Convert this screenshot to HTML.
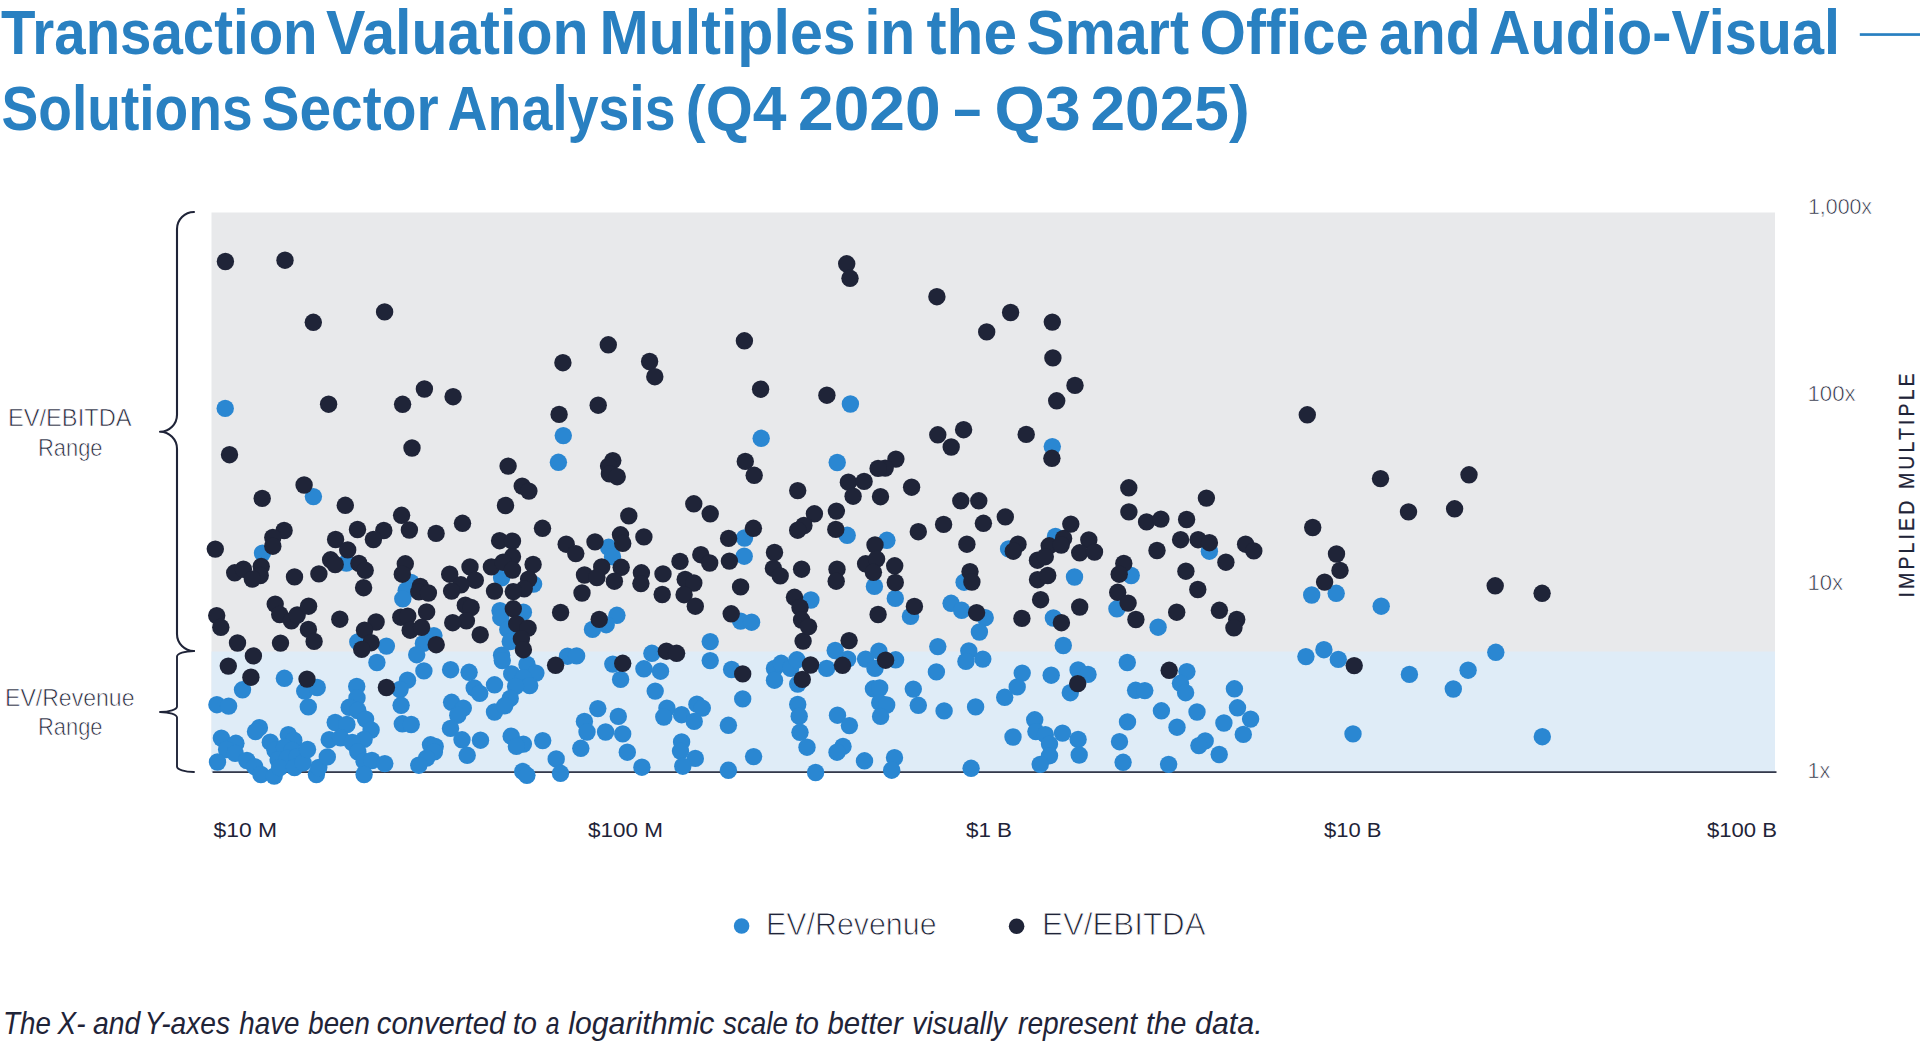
<!DOCTYPE html>
<html lang="en"><head><meta charset="utf-8"><title>Transaction Valuation Multiples</title>
<style>html,body{margin:0;padding:0;background:#fff;overflow:hidden}svg{display:block}text{font-family:"Liberation Sans",sans-serif}</style></head><body>
<svg width="1920" height="1044" viewBox="0 0 1920 1044">
<rect width="1920" height="1044" fill="#ffffff"/>
<rect x="1859.8" y="33.2" width="61" height="2.7" fill="#2980c1"/>
<rect x="211.5" y="212.5" width="1563.5" height="559.5" fill="#e8e9eb"/>
<rect x="211.5" y="651.5" width="1563.5" height="120.5" fill="#dfecf7"/>
<rect x="212.5" y="771.3" width="1564" height="1.6" fill="#1f2438"/>
<path d="M194 212 C184.61 212 177 219.61 177 229 L177 414.8 C177 424.19 169.39 431.8 160 431.8 C169.39 431.8 177 439.41 177 448.8 L177 634 C177 643.39 184.61 651 194 651" fill="none" stroke="#1f2438" stroke-width="2.1" stroke-linecap="round" stroke-linejoin="round"/>
<path d="M194 651 C184.61 651 177 653.51 177 656.6 L177 706.4 C177 709.49 169.39 712 160 712 C169.39 712 177 714.51 177 717.6 L177 766.4 C177 769.49 184.61 772 194 772" fill="none" stroke="#1f2438" stroke-width="1.9" stroke-linecap="round" stroke-linejoin="round"/>
<text y="53.8" font-size="63" font-weight="700" font-style="normal" fill="#2980c1"><tspan x="1.0" textLength="316.54" lengthAdjust="spacingAndGlyphs">Transaction</tspan> <tspan x="326.0" textLength="262.53" lengthAdjust="spacingAndGlyphs">Valuation</tspan> <tspan x="599.5" textLength="256.12" lengthAdjust="spacingAndGlyphs">Multiples</tspan> <tspan x="864.5" textLength="50.79" lengthAdjust="spacingAndGlyphs">in</tspan> <tspan x="926.5" textLength="90.56" lengthAdjust="spacingAndGlyphs">the</tspan> <tspan x="1026.5" textLength="162.51" lengthAdjust="spacingAndGlyphs">Smart</tspan> <tspan x="1199.5" textLength="169.1" lengthAdjust="spacingAndGlyphs">Office</tspan> <tspan x="1379.0" textLength="101.7" lengthAdjust="spacingAndGlyphs">and</tspan> <tspan x="1489.0" textLength="351.07" lengthAdjust="spacingAndGlyphs">Audio-Visual</tspan></text>
<text y="129.6" font-size="63" font-weight="700" font-style="normal" fill="#2980c1"><tspan x="1.5" textLength="251.04" lengthAdjust="spacingAndGlyphs">Solutions</tspan> <tspan x="261.5" textLength="177.04" lengthAdjust="spacingAndGlyphs">Sector</tspan> <tspan x="447.5" textLength="228.08" lengthAdjust="spacingAndGlyphs">Analysis</tspan> <tspan x="685.5" textLength="101.05" lengthAdjust="spacingAndGlyphs">(Q4</tspan> <tspan x="798.0" textLength="142.64" lengthAdjust="spacingAndGlyphs">2020</tspan> <tspan x="953.5" textLength="27.64" lengthAdjust="spacingAndGlyphs">–</tspan> <tspan x="994.5" textLength="86.27" lengthAdjust="spacingAndGlyphs">Q3</tspan> <tspan x="1090.5" textLength="159.11" lengthAdjust="spacingAndGlyphs">2025)</tspan></text>
<text y="1034.3" font-size="31.5" font-weight="400" font-style="italic" fill="#1f2438"><tspan x="3.0" textLength="47.89" lengthAdjust="spacingAndGlyphs">The</tspan> <tspan x="57.5" textLength="28.0" lengthAdjust="spacingAndGlyphs">X-</tspan> <tspan x="93.0" textLength="47.29" lengthAdjust="spacingAndGlyphs">and</tspan> <tspan x="144.5" textLength="85.6" lengthAdjust="spacingAndGlyphs">Y-axes</tspan> <tspan x="239.25" textLength="60.26" lengthAdjust="spacingAndGlyphs">have</tspan> <tspan x="308.25" textLength="61.52" lengthAdjust="spacingAndGlyphs">been</tspan> <tspan x="376.75" textLength="128.51" lengthAdjust="spacingAndGlyphs">converted</tspan> <tspan x="512.75" textLength="24.28" lengthAdjust="spacingAndGlyphs">to</tspan> <tspan x="545.75" textLength="13.78" lengthAdjust="spacingAndGlyphs">a</tspan> <tspan x="568.25" textLength="146.25" lengthAdjust="spacingAndGlyphs">logarithmic</tspan> <tspan x="723.0" textLength="65.0" lengthAdjust="spacingAndGlyphs">scale</tspan> <tspan x="794.75" textLength="24.28" lengthAdjust="spacingAndGlyphs">to</tspan> <tspan x="827.5" textLength="75.26" lengthAdjust="spacingAndGlyphs">better</tspan> <tspan x="912.0" textLength="94.76" lengthAdjust="spacingAndGlyphs">visually</tspan> <tspan x="1018.0" textLength="119.01" lengthAdjust="spacingAndGlyphs">represent</tspan> <tspan x="1146.0" textLength="40.29" lengthAdjust="spacingAndGlyphs">the</tspan> <tspan x="1195.0" textLength="67.68" lengthAdjust="spacingAndGlyphs">data.</tspan></text>
<text x="8.0" y="426.2" font-size="23.7" font-weight="400" font-style="normal" fill="#1f2438" textLength="123.51" lengthAdjust="spacingAndGlyphs" stroke="#ffffff" stroke-width="0.66">EV/EBITDA</text>
<text x="38.0" y="456.4" font-size="23.7" font-weight="400" font-style="normal" fill="#1f2438" textLength="64.56" lengthAdjust="spacingAndGlyphs" stroke="#ffffff" stroke-width="0.66">Range</text>
<text x="5.0" y="706.4" font-size="23.7" font-weight="400" font-style="normal" fill="#1f2438" textLength="129.52" lengthAdjust="spacingAndGlyphs" stroke="#ffffff" stroke-width="0.66">EV/Revenue</text>
<text x="38.0" y="735.4" font-size="23.7" font-weight="400" font-style="normal" fill="#1f2438" textLength="64.56" lengthAdjust="spacingAndGlyphs" stroke="#ffffff" stroke-width="0.66">Range</text>
<text x="1808.0" y="213.5" font-size="22.7" font-weight="400" font-style="normal" fill="#1f2438" textLength="64.04" lengthAdjust="spacingAndGlyphs" stroke="#ffffff" stroke-width="0.64">1,000x</text>
<text x="1807.5" y="400.6" font-size="22.7" font-weight="400" font-style="normal" fill="#1f2438" textLength="48.1" lengthAdjust="spacingAndGlyphs" stroke="#ffffff" stroke-width="0.64">100x</text>
<text x="1807.5" y="590" font-size="22.7" font-weight="400" font-style="normal" fill="#1f2438" textLength="35.6" lengthAdjust="spacingAndGlyphs" stroke="#ffffff" stroke-width="0.64">10x</text>
<text x="1807.5" y="778" font-size="22.7" font-weight="400" font-style="normal" fill="#1f2438" textLength="22.69" lengthAdjust="spacingAndGlyphs" stroke="#ffffff" stroke-width="0.64">1x</text>
<text y="837.4" font-size="19.3" font-weight="400" font-style="normal" fill="#1f2438"><tspan x="213.5" textLength="63.55" lengthAdjust="spacingAndGlyphs">$10 M</tspan> <tspan x="588.0" textLength="75.02" lengthAdjust="spacingAndGlyphs">$100 M</tspan> <tspan x="966.0" textLength="46.06" lengthAdjust="spacingAndGlyphs">$1 B</tspan> <tspan x="1324.0" textLength="57.52" lengthAdjust="spacingAndGlyphs">$10 B</tspan> <tspan x="1707.0" textLength="70.01" lengthAdjust="spacingAndGlyphs">$100 B</tspan></text>
<text y="935.3" font-size="31.8" font-weight="400" font-style="normal" fill="#1f2438" stroke="#ffffff" stroke-width="0.89"><tspan x="766.0" textLength="170.54" lengthAdjust="spacingAndGlyphs">EV/Revenue</tspan> <tspan x="1042.0" textLength="163.52" lengthAdjust="spacingAndGlyphs">EV/EBITDA</tspan></text>
<g transform="translate(1914.3,597.4) rotate(-90) scale(0.86,1)"><text x="0" y="0" font-size="22.7" font-weight="400" fill="#1f2438" textLength="260.5" lengthAdjust="spacing" stroke="#1f2438" stroke-width="0.25">IMPLIED MULTIPLE</text></g>
<circle cx="741.6" cy="926" r="7.8" fill="#2a87d2"/>
<circle cx="1016.6" cy="926.2" r="7.8" fill="#1f2438"/>
<g fill="#2a87d2">
<circle cx="225.2" cy="408.4" r="8.7"/>
<circle cx="850.4" cy="404.0" r="8.7"/>
<circle cx="313.4" cy="496.6" r="8.7"/>
<circle cx="563.3" cy="435.6" r="8.7"/>
<circle cx="558.4" cy="462.3" r="8.7"/>
<circle cx="761.2" cy="438.3" r="8.7"/>
<circle cx="744.5" cy="538.0" r="8.7"/>
<circle cx="608.6" cy="547.3" r="8.7"/>
<circle cx="1052.3" cy="446.6" r="8.7"/>
<circle cx="837.2" cy="462.5" r="8.7"/>
<circle cx="847.2" cy="535.3" r="8.7"/>
<circle cx="886.9" cy="540.3" r="8.7"/>
<circle cx="1055.5" cy="536.4" r="8.7"/>
<circle cx="1008.6" cy="548.9" r="8.7"/>
<circle cx="1311.7" cy="595.0" r="8.7"/>
<circle cx="1336.2" cy="593.3" r="8.7"/>
<circle cx="1381.2" cy="606.2" r="8.7"/>
<circle cx="262.5" cy="553.1" r="8.7"/>
<circle cx="346.4" cy="563.0" r="8.7"/>
<circle cx="410.9" cy="582.5" r="8.7"/>
<circle cx="406.2" cy="590.3" r="8.7"/>
<circle cx="402.8" cy="598.9" r="8.7"/>
<circle cx="501.6" cy="577.8" r="8.7"/>
<circle cx="357.8" cy="641.9" r="8.7"/>
<circle cx="386.4" cy="646.1" r="8.7"/>
<circle cx="433.9" cy="635.6" r="8.7"/>
<circle cx="423.4" cy="643.4" r="8.7"/>
<circle cx="416.7" cy="654.7" r="8.7"/>
<circle cx="500.0" cy="610.6" r="8.7"/>
<circle cx="500.8" cy="617.7" r="8.7"/>
<circle cx="242.5" cy="689.8" r="8.7"/>
<circle cx="284.4" cy="678.3" r="8.7"/>
<circle cx="304.7" cy="691.1" r="8.7"/>
<circle cx="317.2" cy="687.5" r="8.7"/>
<circle cx="376.9" cy="662.5" r="8.7"/>
<circle cx="356.7" cy="686.4" r="8.7"/>
<circle cx="407.5" cy="680.2" r="8.7"/>
<circle cx="400.0" cy="689.5" r="8.7"/>
<circle cx="423.9" cy="670.9" r="8.7"/>
<circle cx="450.6" cy="669.7" r="8.7"/>
<circle cx="469.1" cy="672.3" r="8.7"/>
<circle cx="474.2" cy="688.0" r="8.7"/>
<circle cx="479.7" cy="693.4" r="8.7"/>
<circle cx="494.5" cy="684.8" r="8.7"/>
<circle cx="501.6" cy="655.2" r="8.7"/>
<circle cx="502.3" cy="660.6" r="8.7"/>
<circle cx="533.6" cy="584.1" r="8.7"/>
<circle cx="612.5" cy="556.7" r="8.7"/>
<circle cx="744.2" cy="556.2" r="8.7"/>
<circle cx="523.4" cy="612.2" r="8.7"/>
<circle cx="507.8" cy="629.4" r="8.7"/>
<circle cx="510.2" cy="641.6" r="8.7"/>
<circle cx="616.9" cy="615.3" r="8.7"/>
<circle cx="606.2" cy="624.7" r="8.7"/>
<circle cx="592.5" cy="629.4" r="8.7"/>
<circle cx="740.6" cy="621.1" r="8.7"/>
<circle cx="751.6" cy="622.2" r="8.7"/>
<circle cx="710.2" cy="641.6" r="8.7"/>
<circle cx="710.2" cy="660.6" r="8.7"/>
<circle cx="651.9" cy="653.3" r="8.7"/>
<circle cx="567.5" cy="656.2" r="8.7"/>
<circle cx="576.6" cy="655.9" r="8.7"/>
<circle cx="612.8" cy="664.1" r="8.7"/>
<circle cx="620.6" cy="679.4" r="8.7"/>
<circle cx="643.9" cy="668.8" r="8.7"/>
<circle cx="660.5" cy="671.2" r="8.7"/>
<circle cx="655.2" cy="691.1" r="8.7"/>
<circle cx="731.6" cy="669.5" r="8.7"/>
<circle cx="742.7" cy="698.9" r="8.7"/>
<circle cx="774.5" cy="668.4" r="8.7"/>
<circle cx="781.2" cy="663.3" r="8.7"/>
<circle cx="790.6" cy="668.4" r="8.7"/>
<circle cx="796.9" cy="659.8" r="8.7"/>
<circle cx="774.5" cy="680.2" r="8.7"/>
<circle cx="797.7" cy="684.1" r="8.7"/>
<circle cx="527.0" cy="664.5" r="8.7"/>
<circle cx="511.7" cy="673.9" r="8.7"/>
<circle cx="535.9" cy="673.1" r="8.7"/>
<circle cx="523.4" cy="677.8" r="8.7"/>
<circle cx="529.7" cy="685.6" r="8.7"/>
<circle cx="515.6" cy="686.4" r="8.7"/>
<circle cx="510.2" cy="698.4" r="8.7"/>
<circle cx="874.4" cy="586.4" r="8.7"/>
<circle cx="895.3" cy="598.4" r="8.7"/>
<circle cx="964.1" cy="582.2" r="8.7"/>
<circle cx="1074.5" cy="577.0" r="8.7"/>
<circle cx="810.9" cy="600.0" r="8.7"/>
<circle cx="910.5" cy="616.4" r="8.7"/>
<circle cx="951.1" cy="603.3" r="8.7"/>
<circle cx="961.7" cy="610.3" r="8.7"/>
<circle cx="985.2" cy="617.7" r="8.7"/>
<circle cx="979.4" cy="632.0" r="8.7"/>
<circle cx="1053.4" cy="618.0" r="8.7"/>
<circle cx="1063.3" cy="645.5" r="8.7"/>
<circle cx="937.8" cy="646.6" r="8.7"/>
<circle cx="968.8" cy="650.9" r="8.7"/>
<circle cx="965.9" cy="661.4" r="8.7"/>
<circle cx="982.8" cy="659.1" r="8.7"/>
<circle cx="936.4" cy="671.9" r="8.7"/>
<circle cx="835.2" cy="650.5" r="8.7"/>
<circle cx="847.7" cy="659.1" r="8.7"/>
<circle cx="826.6" cy="668.4" r="8.7"/>
<circle cx="865.6" cy="659.1" r="8.7"/>
<circle cx="878.9" cy="651.2" r="8.7"/>
<circle cx="895.6" cy="659.8" r="8.7"/>
<circle cx="875.0" cy="668.4" r="8.7"/>
<circle cx="873.4" cy="688.8" r="8.7"/>
<circle cx="879.7" cy="688.0" r="8.7"/>
<circle cx="913.3" cy="689.1" r="8.7"/>
<circle cx="1022.2" cy="673.1" r="8.7"/>
<circle cx="1017.2" cy="686.9" r="8.7"/>
<circle cx="1004.7" cy="697.3" r="8.7"/>
<circle cx="1051.2" cy="675.2" r="8.7"/>
<circle cx="1078.1" cy="670.0" r="8.7"/>
<circle cx="1088.0" cy="674.4" r="8.7"/>
<circle cx="1070.3" cy="692.7" r="8.7"/>
<circle cx="1209.4" cy="551.2" r="8.7"/>
<circle cx="1131.2" cy="575.5" r="8.7"/>
<circle cx="1116.9" cy="608.8" r="8.7"/>
<circle cx="1158.1" cy="627.2" r="8.7"/>
<circle cx="1127.3" cy="662.5" r="8.7"/>
<circle cx="1186.9" cy="671.6" r="8.7"/>
<circle cx="1180.5" cy="683.3" r="8.7"/>
<circle cx="1185.6" cy="692.7" r="8.7"/>
<circle cx="1135.6" cy="690.3" r="8.7"/>
<circle cx="1144.8" cy="690.6" r="8.7"/>
<circle cx="1234.4" cy="688.8" r="8.7"/>
<circle cx="1305.9" cy="656.6" r="8.7"/>
<circle cx="1323.9" cy="649.7" r="8.7"/>
<circle cx="1338.3" cy="659.4" r="8.7"/>
<circle cx="1495.8" cy="652.3" r="8.7"/>
<circle cx="1409.4" cy="674.4" r="8.7"/>
<circle cx="1468.1" cy="670.2" r="8.7"/>
<circle cx="1453.3" cy="689.0" r="8.7"/>
<circle cx="1542.3" cy="736.7" r="8.7"/>
<circle cx="216.9" cy="704.7" r="8.7"/>
<circle cx="228.6" cy="706.1" r="8.7"/>
<circle cx="308.3" cy="706.9" r="8.7"/>
<circle cx="357.0" cy="698.0" r="8.7"/>
<circle cx="349.2" cy="707.3" r="8.7"/>
<circle cx="357.8" cy="710.5" r="8.7"/>
<circle cx="365.6" cy="719.1" r="8.7"/>
<circle cx="371.1" cy="730.0" r="8.7"/>
<circle cx="364.1" cy="739.4" r="8.7"/>
<circle cx="335.2" cy="722.5" r="8.7"/>
<circle cx="346.9" cy="724.5" r="8.7"/>
<circle cx="329.2" cy="739.7" r="8.7"/>
<circle cx="340.6" cy="737.8" r="8.7"/>
<circle cx="352.3" cy="742.5" r="8.7"/>
<circle cx="357.8" cy="751.9" r="8.7"/>
<circle cx="364.1" cy="761.2" r="8.7"/>
<circle cx="371.9" cy="760.5" r="8.7"/>
<circle cx="384.8" cy="763.6" r="8.7"/>
<circle cx="364.1" cy="774.5" r="8.7"/>
<circle cx="401.1" cy="705.3" r="8.7"/>
<circle cx="402.3" cy="723.8" r="8.7"/>
<circle cx="411.2" cy="724.5" r="8.7"/>
<circle cx="451.6" cy="702.3" r="8.7"/>
<circle cx="463.3" cy="708.1" r="8.7"/>
<circle cx="457.8" cy="715.2" r="8.7"/>
<circle cx="450.5" cy="728.4" r="8.7"/>
<circle cx="462.0" cy="739.8" r="8.7"/>
<circle cx="480.5" cy="740.2" r="8.7"/>
<circle cx="467.2" cy="755.3" r="8.7"/>
<circle cx="430.5" cy="744.8" r="8.7"/>
<circle cx="435.2" cy="746.4" r="8.7"/>
<circle cx="434.4" cy="751.9" r="8.7"/>
<circle cx="426.6" cy="758.1" r="8.7"/>
<circle cx="418.8" cy="765.2" r="8.7"/>
<circle cx="494.5" cy="712.0" r="8.7"/>
<circle cx="221.4" cy="738.1" r="8.7"/>
<circle cx="235.9" cy="743.3" r="8.7"/>
<circle cx="226.6" cy="749.5" r="8.7"/>
<circle cx="235.2" cy="753.4" r="8.7"/>
<circle cx="217.5" cy="762.0" r="8.7"/>
<circle cx="246.9" cy="760.5" r="8.7"/>
<circle cx="254.7" cy="766.7" r="8.7"/>
<circle cx="260.9" cy="774.5" r="8.7"/>
<circle cx="274.2" cy="776.1" r="8.7"/>
<circle cx="259.4" cy="727.7" r="8.7"/>
<circle cx="255.5" cy="731.6" r="8.7"/>
<circle cx="270.3" cy="742.2" r="8.7"/>
<circle cx="288.3" cy="734.7" r="8.7"/>
<circle cx="293.8" cy="740.2" r="8.7"/>
<circle cx="275.0" cy="750.3" r="8.7"/>
<circle cx="284.4" cy="747.2" r="8.7"/>
<circle cx="292.2" cy="750.3" r="8.7"/>
<circle cx="278.1" cy="759.7" r="8.7"/>
<circle cx="287.5" cy="758.1" r="8.7"/>
<circle cx="296.9" cy="756.6" r="8.7"/>
<circle cx="279.7" cy="767.5" r="8.7"/>
<circle cx="294.5" cy="767.5" r="8.7"/>
<circle cx="303.1" cy="762.8" r="8.7"/>
<circle cx="307.5" cy="749.5" r="8.7"/>
<circle cx="316.4" cy="774.5" r="8.7"/>
<circle cx="318.8" cy="767.5" r="8.7"/>
<circle cx="327.3" cy="756.9" r="8.7"/>
<circle cx="504.7" cy="705.8" r="8.7"/>
<circle cx="597.8" cy="708.6" r="8.7"/>
<circle cx="584.4" cy="721.4" r="8.7"/>
<circle cx="587.0" cy="732.0" r="8.7"/>
<circle cx="618.3" cy="716.4" r="8.7"/>
<circle cx="605.6" cy="732.0" r="8.7"/>
<circle cx="622.7" cy="733.9" r="8.7"/>
<circle cx="580.8" cy="748.3" r="8.7"/>
<circle cx="627.3" cy="752.2" r="8.7"/>
<circle cx="641.9" cy="767.2" r="8.7"/>
<circle cx="511.2" cy="736.2" r="8.7"/>
<circle cx="523.4" cy="744.1" r="8.7"/>
<circle cx="516.4" cy="746.4" r="8.7"/>
<circle cx="542.7" cy="740.6" r="8.7"/>
<circle cx="556.2" cy="758.9" r="8.7"/>
<circle cx="560.5" cy="773.3" r="8.7"/>
<circle cx="522.7" cy="771.4" r="8.7"/>
<circle cx="526.9" cy="775.3" r="8.7"/>
<circle cx="666.9" cy="708.1" r="8.7"/>
<circle cx="663.8" cy="717.0" r="8.7"/>
<circle cx="681.6" cy="714.7" r="8.7"/>
<circle cx="696.9" cy="704.2" r="8.7"/>
<circle cx="702.3" cy="708.1" r="8.7"/>
<circle cx="694.2" cy="721.4" r="8.7"/>
<circle cx="728.4" cy="725.3" r="8.7"/>
<circle cx="681.6" cy="742.0" r="8.7"/>
<circle cx="680.5" cy="751.1" r="8.7"/>
<circle cx="695.3" cy="758.4" r="8.7"/>
<circle cx="682.8" cy="766.2" r="8.7"/>
<circle cx="728.4" cy="770.3" r="8.7"/>
<circle cx="753.6" cy="756.6" r="8.7"/>
<circle cx="797.7" cy="704.5" r="8.7"/>
<circle cx="799.2" cy="716.2" r="8.7"/>
<circle cx="800.0" cy="732.3" r="8.7"/>
<circle cx="807.0" cy="747.2" r="8.7"/>
<circle cx="815.6" cy="772.5" r="8.7"/>
<circle cx="837.5" cy="715.2" r="8.7"/>
<circle cx="849.4" cy="725.6" r="8.7"/>
<circle cx="843.0" cy="746.4" r="8.7"/>
<circle cx="837.0" cy="752.2" r="8.7"/>
<circle cx="864.5" cy="760.8" r="8.7"/>
<circle cx="894.5" cy="757.7" r="8.7"/>
<circle cx="891.7" cy="770.2" r="8.7"/>
<circle cx="879.7" cy="702.7" r="8.7"/>
<circle cx="886.7" cy="705.0" r="8.7"/>
<circle cx="880.6" cy="716.4" r="8.7"/>
<circle cx="918.3" cy="705.3" r="8.7"/>
<circle cx="944.1" cy="710.9" r="8.7"/>
<circle cx="975.6" cy="706.9" r="8.7"/>
<circle cx="1013.0" cy="737.0" r="8.7"/>
<circle cx="1034.7" cy="719.8" r="8.7"/>
<circle cx="1035.9" cy="731.6" r="8.7"/>
<circle cx="1045.3" cy="734.7" r="8.7"/>
<circle cx="1049.5" cy="744.1" r="8.7"/>
<circle cx="1049.5" cy="755.8" r="8.7"/>
<circle cx="1040.2" cy="764.4" r="8.7"/>
<circle cx="1062.5" cy="733.1" r="8.7"/>
<circle cx="1078.1" cy="739.4" r="8.7"/>
<circle cx="1079.2" cy="755.0" r="8.7"/>
<circle cx="971.1" cy="768.3" r="8.7"/>
<circle cx="1161.4" cy="710.8" r="8.7"/>
<circle cx="1127.5" cy="721.9" r="8.7"/>
<circle cx="1177.0" cy="727.2" r="8.7"/>
<circle cx="1197.0" cy="712.0" r="8.7"/>
<circle cx="1237.5" cy="707.8" r="8.7"/>
<circle cx="1250.6" cy="719.1" r="8.7"/>
<circle cx="1223.9" cy="723.0" r="8.7"/>
<circle cx="1243.3" cy="734.4" r="8.7"/>
<circle cx="1119.5" cy="741.7" r="8.7"/>
<circle cx="1205.2" cy="740.9" r="8.7"/>
<circle cx="1198.9" cy="745.6" r="8.7"/>
<circle cx="1219.2" cy="754.5" r="8.7"/>
<circle cx="1123.1" cy="762.3" r="8.7"/>
<circle cx="1168.6" cy="764.4" r="8.7"/>
<circle cx="1353.0" cy="733.9" r="8.7"/>
</g>
<g fill="#1f2438">
<circle cx="225.4" cy="261.5" r="8.7"/>
<circle cx="285.0" cy="260.2" r="8.7"/>
<circle cx="313.3" cy="322.3" r="8.7"/>
<circle cx="384.6" cy="311.9" r="8.7"/>
<circle cx="562.9" cy="362.7" r="8.7"/>
<circle cx="424.4" cy="389.0" r="8.7"/>
<circle cx="453.1" cy="396.7" r="8.7"/>
<circle cx="328.6" cy="404.2" r="8.7"/>
<circle cx="402.6" cy="404.3" r="8.7"/>
<circle cx="598.2" cy="405.2" r="8.7"/>
<circle cx="846.7" cy="263.8" r="8.7"/>
<circle cx="850.0" cy="278.3" r="8.7"/>
<circle cx="936.9" cy="296.7" r="8.7"/>
<circle cx="986.7" cy="331.9" r="8.7"/>
<circle cx="608.3" cy="344.8" r="8.7"/>
<circle cx="744.4" cy="340.8" r="8.7"/>
<circle cx="649.6" cy="361.5" r="8.7"/>
<circle cx="654.8" cy="376.7" r="8.7"/>
<circle cx="760.6" cy="389.2" r="8.7"/>
<circle cx="826.9" cy="395.2" r="8.7"/>
<circle cx="1010.6" cy="312.5" r="8.7"/>
<circle cx="1052.3" cy="322.1" r="8.7"/>
<circle cx="1052.9" cy="357.9" r="8.7"/>
<circle cx="1075.0" cy="385.4" r="8.7"/>
<circle cx="1056.7" cy="400.8" r="8.7"/>
<circle cx="229.5" cy="454.7" r="8.7"/>
<circle cx="412.0" cy="448.0" r="8.7"/>
<circle cx="304.1" cy="485.0" r="8.7"/>
<circle cx="262.2" cy="498.4" r="8.7"/>
<circle cx="345.3" cy="505.3" r="8.7"/>
<circle cx="401.6" cy="515.3" r="8.7"/>
<circle cx="462.5" cy="523.3" r="8.7"/>
<circle cx="284.1" cy="530.5" r="8.7"/>
<circle cx="357.5" cy="529.5" r="8.7"/>
<circle cx="383.8" cy="530.5" r="8.7"/>
<circle cx="409.4" cy="530.0" r="8.7"/>
<circle cx="436.1" cy="533.4" r="8.7"/>
<circle cx="272.8" cy="537.5" r="8.7"/>
<circle cx="335.6" cy="539.5" r="8.7"/>
<circle cx="373.4" cy="539.5" r="8.7"/>
<circle cx="215.3" cy="549.1" r="8.7"/>
<circle cx="272.8" cy="546.2" r="8.7"/>
<circle cx="347.7" cy="549.9" r="8.7"/>
<circle cx="499.6" cy="540.7" r="8.7"/>
<circle cx="559.1" cy="414.4" r="8.7"/>
<circle cx="508.1" cy="466.1" r="8.7"/>
<circle cx="612.8" cy="460.6" r="8.7"/>
<circle cx="608.6" cy="466.1" r="8.7"/>
<circle cx="609.4" cy="473.9" r="8.7"/>
<circle cx="617.2" cy="476.7" r="8.7"/>
<circle cx="745.3" cy="461.4" r="8.7"/>
<circle cx="754.2" cy="475.3" r="8.7"/>
<circle cx="797.7" cy="490.6" r="8.7"/>
<circle cx="522.2" cy="486.1" r="8.7"/>
<circle cx="528.9" cy="491.1" r="8.7"/>
<circle cx="505.5" cy="505.5" r="8.7"/>
<circle cx="693.8" cy="503.8" r="8.7"/>
<circle cx="710.2" cy="513.8" r="8.7"/>
<circle cx="628.8" cy="515.9" r="8.7"/>
<circle cx="542.5" cy="528.3" r="8.7"/>
<circle cx="753.4" cy="528.3" r="8.7"/>
<circle cx="728.6" cy="538.4" r="8.7"/>
<circle cx="643.9" cy="536.9" r="8.7"/>
<circle cx="620.5" cy="534.8" r="8.7"/>
<circle cx="622.7" cy="543.4" r="8.7"/>
<circle cx="595.0" cy="541.9" r="8.7"/>
<circle cx="566.2" cy="544.2" r="8.7"/>
<circle cx="512.5" cy="541.1" r="8.7"/>
<circle cx="937.8" cy="434.8" r="8.7"/>
<circle cx="963.6" cy="429.7" r="8.7"/>
<circle cx="951.2" cy="447.0" r="8.7"/>
<circle cx="1026.2" cy="434.4" r="8.7"/>
<circle cx="1051.9" cy="458.3" r="8.7"/>
<circle cx="895.9" cy="459.1" r="8.7"/>
<circle cx="885.2" cy="468.1" r="8.7"/>
<circle cx="878.1" cy="468.4" r="8.7"/>
<circle cx="848.4" cy="482.2" r="8.7"/>
<circle cx="864.1" cy="481.4" r="8.7"/>
<circle cx="853.1" cy="496.2" r="8.7"/>
<circle cx="880.5" cy="496.7" r="8.7"/>
<circle cx="911.6" cy="487.2" r="8.7"/>
<circle cx="960.8" cy="500.8" r="8.7"/>
<circle cx="978.8" cy="500.8" r="8.7"/>
<circle cx="1005.3" cy="516.9" r="8.7"/>
<circle cx="983.4" cy="523.3" r="8.7"/>
<circle cx="943.6" cy="524.4" r="8.7"/>
<circle cx="918.3" cy="531.7" r="8.7"/>
<circle cx="836.4" cy="511.1" r="8.7"/>
<circle cx="814.4" cy="513.8" r="8.7"/>
<circle cx="803.9" cy="525.5" r="8.7"/>
<circle cx="797.7" cy="530.2" r="8.7"/>
<circle cx="835.8" cy="529.4" r="8.7"/>
<circle cx="875.0" cy="545.0" r="8.7"/>
<circle cx="966.9" cy="544.2" r="8.7"/>
<circle cx="1070.8" cy="524.1" r="8.7"/>
<circle cx="1063.6" cy="538.4" r="8.7"/>
<circle cx="1088.8" cy="540.0" r="8.7"/>
<circle cx="1049.2" cy="545.8" r="8.7"/>
<circle cx="1018.0" cy="544.2" r="8.7"/>
<circle cx="1307.3" cy="414.8" r="8.7"/>
<circle cx="1380.5" cy="478.6" r="8.7"/>
<circle cx="1128.8" cy="487.8" r="8.7"/>
<circle cx="1206.4" cy="498.1" r="8.7"/>
<circle cx="1128.9" cy="511.9" r="8.7"/>
<circle cx="1146.6" cy="521.9" r="8.7"/>
<circle cx="1160.9" cy="519.1" r="8.7"/>
<circle cx="1186.6" cy="519.5" r="8.7"/>
<circle cx="1312.7" cy="527.5" r="8.7"/>
<circle cx="1180.6" cy="539.7" r="8.7"/>
<circle cx="1198.1" cy="539.7" r="8.7"/>
<circle cx="1209.4" cy="542.7" r="8.7"/>
<circle cx="1245.6" cy="544.2" r="8.7"/>
<circle cx="1253.8" cy="550.9" r="8.7"/>
<circle cx="1157.0" cy="550.5" r="8.7"/>
<circle cx="1469.0" cy="474.8" r="8.7"/>
<circle cx="1408.5" cy="511.9" r="8.7"/>
<circle cx="1454.6" cy="508.8" r="8.7"/>
<circle cx="1336.5" cy="554.0" r="8.7"/>
<circle cx="1340.0" cy="570.4" r="8.7"/>
<circle cx="1324.6" cy="582.1" r="8.7"/>
<circle cx="1495.2" cy="585.8" r="8.7"/>
<circle cx="1542.1" cy="593.3" r="8.7"/>
<circle cx="234.7" cy="572.8" r="8.7"/>
<circle cx="243.4" cy="569.2" r="8.7"/>
<circle cx="261.2" cy="566.4" r="8.7"/>
<circle cx="260.2" cy="575.5" r="8.7"/>
<circle cx="252.3" cy="579.1" r="8.7"/>
<circle cx="294.5" cy="576.9" r="8.7"/>
<circle cx="318.9" cy="573.9" r="8.7"/>
<circle cx="330.6" cy="559.8" r="8.7"/>
<circle cx="335.2" cy="564.5" r="8.7"/>
<circle cx="358.9" cy="563.4" r="8.7"/>
<circle cx="365.2" cy="570.3" r="8.7"/>
<circle cx="363.6" cy="587.7" r="8.7"/>
<circle cx="405.3" cy="563.8" r="8.7"/>
<circle cx="402.3" cy="574.2" r="8.7"/>
<circle cx="420.3" cy="586.4" r="8.7"/>
<circle cx="418.8" cy="591.9" r="8.7"/>
<circle cx="428.4" cy="593.0" r="8.7"/>
<circle cx="449.7" cy="574.2" r="8.7"/>
<circle cx="470.0" cy="566.9" r="8.7"/>
<circle cx="475.3" cy="580.2" r="8.7"/>
<circle cx="460.9" cy="584.8" r="8.7"/>
<circle cx="451.6" cy="591.1" r="8.7"/>
<circle cx="491.4" cy="566.9" r="8.7"/>
<circle cx="494.5" cy="591.1" r="8.7"/>
<circle cx="216.7" cy="615.6" r="8.7"/>
<circle cx="220.8" cy="627.3" r="8.7"/>
<circle cx="275.2" cy="604.1" r="8.7"/>
<circle cx="279.7" cy="614.5" r="8.7"/>
<circle cx="291.4" cy="620.8" r="8.7"/>
<circle cx="297.2" cy="615.0" r="8.7"/>
<circle cx="308.6" cy="606.2" r="8.7"/>
<circle cx="308.4" cy="629.4" r="8.7"/>
<circle cx="314.1" cy="641.4" r="8.7"/>
<circle cx="339.8" cy="619.2" r="8.7"/>
<circle cx="376.1" cy="622.0" r="8.7"/>
<circle cx="364.5" cy="630.2" r="8.7"/>
<circle cx="371.1" cy="642.7" r="8.7"/>
<circle cx="361.7" cy="649.4" r="8.7"/>
<circle cx="400.8" cy="617.2" r="8.7"/>
<circle cx="407.8" cy="616.1" r="8.7"/>
<circle cx="426.6" cy="611.9" r="8.7"/>
<circle cx="410.2" cy="630.2" r="8.7"/>
<circle cx="421.6" cy="627.3" r="8.7"/>
<circle cx="436.2" cy="644.7" r="8.7"/>
<circle cx="465.3" cy="605.2" r="8.7"/>
<circle cx="471.1" cy="607.5" r="8.7"/>
<circle cx="466.4" cy="620.8" r="8.7"/>
<circle cx="452.7" cy="622.7" r="8.7"/>
<circle cx="480.2" cy="634.7" r="8.7"/>
<circle cx="237.5" cy="643.0" r="8.7"/>
<circle cx="280.5" cy="643.1" r="8.7"/>
<circle cx="253.4" cy="655.9" r="8.7"/>
<circle cx="228.3" cy="666.1" r="8.7"/>
<circle cx="250.9" cy="677.2" r="8.7"/>
<circle cx="307.0" cy="679.1" r="8.7"/>
<circle cx="386.4" cy="687.5" r="8.7"/>
<circle cx="512.5" cy="556.7" r="8.7"/>
<circle cx="503.1" cy="562.2" r="8.7"/>
<circle cx="512.5" cy="570.0" r="8.7"/>
<circle cx="533.1" cy="564.5" r="8.7"/>
<circle cx="528.6" cy="579.1" r="8.7"/>
<circle cx="524.2" cy="588.8" r="8.7"/>
<circle cx="513.3" cy="591.6" r="8.7"/>
<circle cx="575.8" cy="553.6" r="8.7"/>
<circle cx="601.7" cy="566.9" r="8.7"/>
<circle cx="584.5" cy="575.0" r="8.7"/>
<circle cx="596.9" cy="577.5" r="8.7"/>
<circle cx="621.2" cy="567.3" r="8.7"/>
<circle cx="614.4" cy="581.2" r="8.7"/>
<circle cx="582.0" cy="593.0" r="8.7"/>
<circle cx="641.4" cy="572.8" r="8.7"/>
<circle cx="640.9" cy="583.6" r="8.7"/>
<circle cx="663.0" cy="573.9" r="8.7"/>
<circle cx="662.2" cy="594.5" r="8.7"/>
<circle cx="680.0" cy="561.4" r="8.7"/>
<circle cx="685.2" cy="579.4" r="8.7"/>
<circle cx="693.8" cy="583.0" r="8.7"/>
<circle cx="684.1" cy="594.7" r="8.7"/>
<circle cx="695.3" cy="606.2" r="8.7"/>
<circle cx="700.8" cy="554.7" r="8.7"/>
<circle cx="709.7" cy="563.0" r="8.7"/>
<circle cx="729.4" cy="561.1" r="8.7"/>
<circle cx="774.5" cy="552.5" r="8.7"/>
<circle cx="773.4" cy="568.4" r="8.7"/>
<circle cx="780.2" cy="575.9" r="8.7"/>
<circle cx="740.6" cy="586.9" r="8.7"/>
<circle cx="801.6" cy="569.2" r="8.7"/>
<circle cx="794.5" cy="597.3" r="8.7"/>
<circle cx="800.0" cy="607.5" r="8.7"/>
<circle cx="801.6" cy="620.0" r="8.7"/>
<circle cx="803.1" cy="641.1" r="8.7"/>
<circle cx="513.3" cy="608.8" r="8.7"/>
<circle cx="516.7" cy="623.9" r="8.7"/>
<circle cx="528.1" cy="628.1" r="8.7"/>
<circle cx="521.4" cy="638.8" r="8.7"/>
<circle cx="523.4" cy="649.7" r="8.7"/>
<circle cx="560.6" cy="612.5" r="8.7"/>
<circle cx="599.2" cy="619.4" r="8.7"/>
<circle cx="731.2" cy="613.8" r="8.7"/>
<circle cx="666.4" cy="651.2" r="8.7"/>
<circle cx="676.6" cy="653.3" r="8.7"/>
<circle cx="555.6" cy="665.3" r="8.7"/>
<circle cx="622.7" cy="663.3" r="8.7"/>
<circle cx="742.7" cy="673.9" r="8.7"/>
<circle cx="802.3" cy="679.4" r="8.7"/>
<circle cx="1013.3" cy="551.2" r="8.7"/>
<circle cx="1037.5" cy="560.2" r="8.7"/>
<circle cx="1045.3" cy="556.7" r="8.7"/>
<circle cx="1061.2" cy="545.0" r="8.7"/>
<circle cx="1079.7" cy="552.8" r="8.7"/>
<circle cx="1094.5" cy="552.0" r="8.7"/>
<circle cx="837.0" cy="569.2" r="8.7"/>
<circle cx="836.2" cy="581.2" r="8.7"/>
<circle cx="865.6" cy="563.8" r="8.7"/>
<circle cx="876.6" cy="559.1" r="8.7"/>
<circle cx="873.4" cy="572.3" r="8.7"/>
<circle cx="894.7" cy="565.8" r="8.7"/>
<circle cx="895.3" cy="582.5" r="8.7"/>
<circle cx="970.0" cy="571.6" r="8.7"/>
<circle cx="971.9" cy="582.0" r="8.7"/>
<circle cx="1037.5" cy="579.7" r="8.7"/>
<circle cx="1047.7" cy="575.5" r="8.7"/>
<circle cx="1040.6" cy="599.7" r="8.7"/>
<circle cx="1079.7" cy="607.0" r="8.7"/>
<circle cx="808.6" cy="626.6" r="8.7"/>
<circle cx="878.1" cy="614.5" r="8.7"/>
<circle cx="914.4" cy="606.4" r="8.7"/>
<circle cx="976.6" cy="612.7" r="8.7"/>
<circle cx="1021.9" cy="618.4" r="8.7"/>
<circle cx="1061.4" cy="622.7" r="8.7"/>
<circle cx="849.1" cy="640.6" r="8.7"/>
<circle cx="842.5" cy="665.3" r="8.7"/>
<circle cx="810.5" cy="665.0" r="8.7"/>
<circle cx="885.6" cy="660.2" r="8.7"/>
<circle cx="1077.7" cy="683.6" r="8.7"/>
<circle cx="1225.9" cy="562.2" r="8.7"/>
<circle cx="1185.9" cy="571.2" r="8.7"/>
<circle cx="1197.8" cy="589.5" r="8.7"/>
<circle cx="1123.8" cy="563.4" r="8.7"/>
<circle cx="1119.2" cy="574.2" r="8.7"/>
<circle cx="1117.7" cy="592.3" r="8.7"/>
<circle cx="1128.1" cy="603.1" r="8.7"/>
<circle cx="1135.9" cy="619.5" r="8.7"/>
<circle cx="1176.7" cy="612.2" r="8.7"/>
<circle cx="1219.4" cy="610.3" r="8.7"/>
<circle cx="1236.7" cy="619.5" r="8.7"/>
<circle cx="1233.9" cy="627.8" r="8.7"/>
<circle cx="1169.2" cy="670.3" r="8.7"/>
<circle cx="1354.2" cy="665.6" r="8.7"/>
</g>
</svg></body></html>
